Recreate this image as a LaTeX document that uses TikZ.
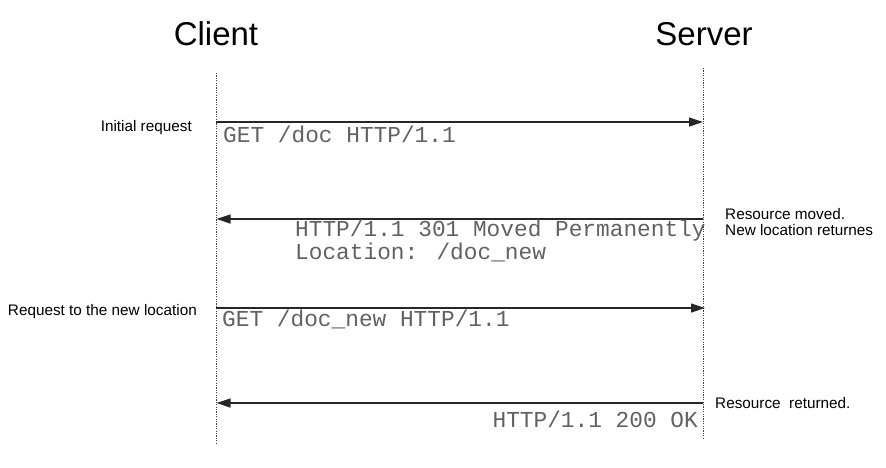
\documentclass[tikz,border=0pt]{standalone}
\usepackage{fontspec}
\setmainfont{Liberation Sans}
\newfontfamily\msgfont{Liberation Mono}
\usetikzlibrary{arrows.meta}
\begin{document}
\begin{tikzpicture}[x=1pt,y=-1pt,
  title/.style={font=\fontsize{33}{38}\selectfont, inner sep=0pt, anchor=base},
  note/.style={font=\fontsize{15.3}{16}\selectfont, inner sep=0pt, align=left},
  msgtext/.style={font=\msgfont\fontsize{22.8}{20.5}\selectfont, text=black!62, inner sep=0pt, align=left},
  lifeline/.style={draw=black!75, line width=0.9pt, dash pattern=on 1.2pt off 1.2pt},
  msg/.style={draw=black!85, line width=1.2pt, -{Triangle[length=14pt,width=9pt]}}]
\useasboundingbox (0,0) rectangle (886,467);

% participants
\node[title] (client) at (216,45) {Client};
\node[title] (server) at (704,45) {Server};

% lifelines
\coordinate (ctop) at (216,73);
\coordinate (cbot) at (216,444);
\coordinate (stop) at (703,68);
\coordinate (sbot) at (703,439);
\draw[lifeline] (ctop) -- (cbot);
\draw[lifeline] (stop) -- (sbot);

% message end points
\coordinate (c1) at (216,122);   \coordinate (s1) at (703,122);
\coordinate (s2) at (703,219);   \coordinate (c2) at (216.5,219);
\coordinate (c3) at (216,308);   \coordinate (s3) at (705,308);
\coordinate (s4) at (703,403);   \coordinate (c4) at (216.5,403);

% messages
\draw[msg] (c1) -- (s1);
\draw[msg] (s2) -- (c2);
\draw[msg] (c3) -- (s3);
\draw[msg] (s4) -- (c4);

% message contents (base anchor sits on the last line)
\node[msgtext, anchor=base west] (m1) at (223,142) {GET /doc HTTP/1.1};
\node[msgtext, anchor=base west] (m2) at (295,259)
  {HTTP/1.1 301 Moved Permanently\\Location: /doc\_new};
\node[msgtext, anchor=base west] (m3) at (222,326) {GET /doc\_new HTTP/1.1};
\node[msgtext, anchor=base east] (m4) at (698,427) {HTTP/1.1 200 OK};

% side notes
\node[note, anchor=base east] (n1) at (192,131) {Initial request};
\node[note, anchor=base west] (n2) at (725,235) {Resource moved.\\New location returnes};
\node[note, anchor=base east] (n3) at (197,315) {Request to the new location};
\node[note, anchor=base west] (n4) at (715,408) {Resource\ \ returned.};
\end{tikzpicture}
\end{document}
